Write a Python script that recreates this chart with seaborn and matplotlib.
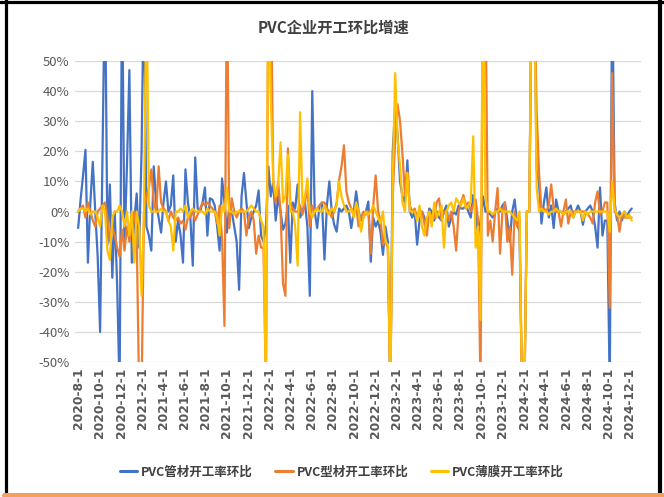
import pandas as pd
import numpy as np
import seaborn as sns
import matplotlib.pyplot as plt
import matplotlib.dates as mdates
from matplotlib.lines import Line2D

# weekly data, start date of the series
start_date = "2020-07-31"

series_names = ["PVC管材开工率环比", "PVC型材开工率环比", "PVC薄膜开工率环比"]

# week on week change, % (values beyond +-50 are cut off by the axis)
pipe = [
    -5.5, 4, 12, 20.5, -17, 3, 16.5, 0, -15, -40,        # 0
    20, 80, -11, 9, -22, 0, -25, -60, 80, -12,           # 10
    15, 47, -17, -3, 6, -12, 20, 80, -5, -8,             # 20
    -13, 15, 3, -2, -7, 3, 10, 0, 2, 12,                 # 30
    -10, -3, -8, -17, 14, 3, -2, -18, 18, 1,             # 40
    0, 3, 8, -8, 4.4, 4, 2, -5, -13, 11,                 # 50
    3, -7, 2, 0, -5, -10, -26, 5, 12.8, 3,               # 60
    -5.5, -2, 0, 2, 7, -8, -10, -5, 15, 5,               # 70
    10, -3, 5, 0, -6, -4, 2, -17, 3, 1,                  # 80
    9, -2, 0, 3, -5, -28, 40, 0, -5.5, 2,                # 90
    3, -16, 2, 10, 0, -4.4, -6.7, 1, 0, 1,               # 100
    2, 0, -5.5, 0, 6.7, 0, -3, -2, 0, 3.3,               # 110
    -16.7, -2, -5, -3, -7, -14.4, -5, -10, -60, 20,      # 120
    35, 25, 10, 5, 3, 17, 0, -2, 0, -11,                 # 130
    -3, 0, -2, -5, 1, 0, -3, 0, -2, -3,                  # 140
    0, 2, -5, -2, 0, -1, 2, 1, 1, 2,                     # 150
    0, -2, 5.5, 0, -8, -3, 5, 0, 0, -1,                  # 160
    -2, 0, 1, 0, 2, 3, -3, -10, 0, 4,                    # 170
    -4, -6.7, -60, -60, 0, 0, 80, 80, 14, 9,             # 180
    -4, 3, 8, -2, 2, -5.5, 4, 0, 0, -1,                  # 190
    0, 1, 2, -2, 0, 2, 0, -4.4, 0, 1,                    # 200
    2, 0, -5, -12, 8, -8, -3, -3, -60, 80,               # 210
    3, -3, 0, -3, 0, -2, 0, 1,                           # 220
]

profile = [
    0, 1, 2, -2, 3, 0, -3, -5, 0, 1,                     # 0
    2, 3, -2, -10, -5, -8, -12, -15, -6, -13,            # 10
    -5, -10, -3, 0, -8, -60, -60, 0, 5, 8,               # 20
    14, 3, 0, 15, 3, 1, 0, -3, 0, -2,                    # 30
    -3, -2, -4, -3, -6, -2, -2, 0, -3, -1,               # 40
    1, 3, 2, 3, 2, 1, 0, -4, 2, -9,                      # 50
    -38, 80, -5.5, 4.4, 0, -2, 0, 1, 0, -8,              # 60
    -2, 0, -3, -14, -8, -12, -12, -60, 80, 80,           # 70
    10, 3, 10, 0, -24, -28, 21, 3, 1, 0,                 # 80
    0, 2, -1, 3, 8, -5, 2, 0, 1, 2,                      # 90
    3, 3, 1, 0, -2, 0, 3, 10.5, 15, 22,                  # 100
    6.7, 3, 1, 0, 2, -5, -2, 0, -1, 0,                   # 110
    -14, 2, 12, 0, -3, -11, -10, -12, -60, 5,            # 120
    24, 35.6, 30, 19, 5.5, 13, 2, 0, 1, -2,              # 130
    0, 0, -4, -8, 0, -3, -2, 3, 4.4, -3,                 # 140
    0, 0, -3, 0, -5, -13, 0, 3, 5.5, 2,                  # 150
    3, 0, 2, 4, -3, -60, 80, 80, -8, -3,                 # 160
    -10, 0, 7.8, -14, 0, 3, -10, -5, -21, 0,             # 170
    -5, -2, -60, -60, 0, 0, 80, 80, 34, 13,              # 180
    0, 1, 0, 2, 9, 1, 0, 0, -5, 0,                       # 190
    4, -4, 0, 0, 0, 0, 0, 0, 0, -1,                      # 200
    -2, -4, 3, 6.7, -1, 0, 3, 3, -32, 46,                # 210
    0, -1, -6.7, -1, -2, -2, -2, -2,                     # 220
]

film = [
    0, 1, 1, 0, 1, -1, 0, 0, -2, -5,                     # 0
    2, 0, -13, -16, -2, 0, 0, 2, 0, -5,                  # 10
    0, -8, 0, -17, 0, -5, -28, 0, 80, 2,                 # 20
    0, 0, 0, 0, 1, 0, 0, -3, -5, -13,                    # 30
    0, 0, 1, 0, 2, -2, 0, 1, 0, 0,                       # 40
    0, 0, -1, 1, 0, 0, 0, -2, -8, 2,                     # 50
    0, 8, 0, 0, -1, 0, 0, 0, 0, 0,                       # 60
    1, 2, 1, 0, 0, -3, -5, -60, 80, 38,                  # 70
    10, 5, 9, 23, 3, 5, 19, 0, 0, -5,                    # 80
    -18, 33, 2, 5, 11, 0, -2, 0, 1, 0,                   # 90
    0, 2, 0, -1, 1, 0, 2, 10, 5, 2,                      # 100
    0, 0, 1, -2, 3, 0, -6.7, -2, 0, -1,                  # 110
    0, 2, 0, -2, -4, 0, -10, -11, -60, 10,               # 120
    46, 24, 15, 3, 0, 12.8, 0, 0, 0, -3,                 # 130
    2, -5, -8, -2, 0, -5, 3, -2, 0, 2,                   # 140
    -12, 0, 2, 3, 0, 4.4, 3, 2, 4.4, 1,                  # 150
    2, 3, 25, -12, -5, -36, 80, 5, 0, 0,                 # 160
    -1, 0, 0, 1, 0, 0, 0, 0, -1, -2,                     # 170
    -3, 0, -60, -60, 0, 0, 80, 80, 8, 0,                 # 180
    1, 0, 0, -1, 0, 0, 1, 0, 0, -1,                      # 190
    0, 0, 0, -2, 0, 0, 0, -3, 0, -1,                     # 200
    0, 0, 0, 0, 0, 0, 0, 0, -6.7, 10,                    # 210
    1, -1, -2, -1, 0, -2, -1, -3,                        # 220
]

colors = ["#4472C4", "#ED7D31", "#FFC000"]

dates = pd.date_range(start_date, periods=len(pipe), freq="7D")

sns.set_theme(style="whitegrid")
plt.rcParams["font.family"] = ["Noto Sans CJK SC", "DejaVu Sans"]

fig = plt.figure(figsize=(6.64, 4.97), dpi=100)
ax = fig.add_axes([0.113, 0.2716, 0.852, 0.6056])

for name, vals, c in zip(series_names, [pipe, profile, film], colors):
    sns.lineplot(x=dates, y=vals, color=c, linewidth=1.6, ax=ax, label=name)

ax.set_ylim(-50, 50)
ax.set_yticks(range(-50, 51, 10))
ax.set_yticklabels([f"{v}%" for v in range(-50, 51, 10)], fontsize=9.5, color="#595959")
ax.set_xlim(pd.Timestamp("2020-07-22"), pd.Timestamp("2025-01-01"))
ax.xaxis.set_major_locator(mdates.MonthLocator(bymonth=[2, 4, 6, 8, 10, 12], bymonthday=1))
ax.xaxis.set_major_formatter(plt.FuncFormatter(
    lambda v, p: "{0.year}-{0.month}-{0.day}".format(mdates.num2date(v))))
for lab in ax.get_xticklabels():
    lab.set_rotation(90)
    lab.set_fontsize(8.8)
    lab.set_fontweight("bold")
    lab.set_color("#595959")
    lab.set_family(["DejaVu Sans"])

ax.grid(axis="y", color="#D9D9D9", linewidth=0.9)
ax.grid(axis="x", visible=False)
for s in ax.spines.values():
    s.set_visible(False)
ax.tick_params(axis="both", length=0, pad=4)
ax.set_xlabel("")
ax.set_ylabel("")

ax.legend_.remove()
handles = [Line2D([0], [0], color=c, lw=2.2) for c in colors]
fig.legend(handles, series_names, loc="center", bbox_to_anchor=(0.515, 0.05),
           ncol=3, frameon=False, handlelength=1.4,
           handletextpad=0.3, columnspacing=1.8, labelcolor="#404040",
           prop={"family": ["Noto Sans CJK SC", "DejaVu Sans"], "size": 9, "weight": "bold"})

fig.text(0.502, 0.945, "PVC企业开工环比增速", ha="center", va="center",
         fontsize=11, fontweight="bold", color="#404040")

# outer frame like the screenshot
fig.add_artist(Line2D([5.5 / 664, 5.5 / 664], [0, 1], transform=fig.transFigure, color="black", lw=2.3))
fig.add_artist(Line2D([0, 1], [1 - 1.5 / 497, 1 - 1.5 / 497], transform=fig.transFigure, color="black", lw=2.3))
fig.add_artist(Line2D([660 / 664, 660 / 664], [0, 1], transform=fig.transFigure, color="black", lw=3))
fig.add_artist(Line2D([4 / 664, 1], [2.5 / 497, 2.5 / 497], transform=fig.transFigure, color="#F4A15D", lw=3.6))

fig.savefig("out.png", dpi=100)
